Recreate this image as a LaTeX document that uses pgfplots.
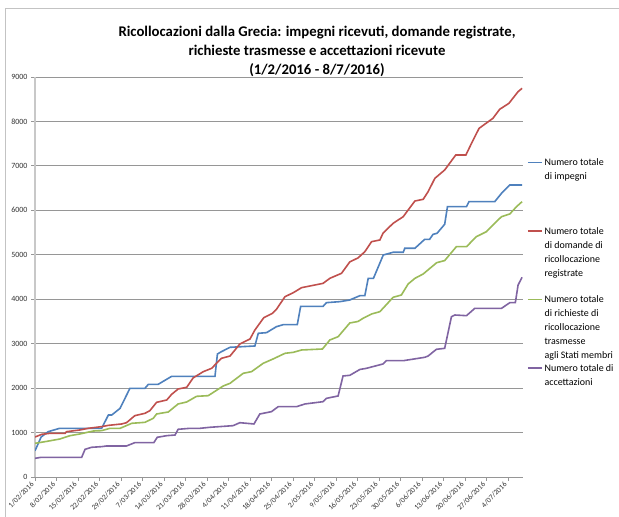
\documentclass[border=0pt]{standalone}
\usepackage{fontspec}
\setmainfont{Carlito}
\usepackage{pgfplots}
\pgfplotsset{compat=1.18}
\definecolor{cblue}{HTML}{4F81BD}
\definecolor{cred}{HTML}{C0504D}
\definecolor{cgreen}{HTML}{9BBB59}
\definecolor{cpurple}{HTML}{8064A2}
\definecolor{gridc}{RGB}{150,150,150}
\definecolor{yaxc}{RGB}{200,200,200}
\definecolor{framec}{RGB}{195,195,195}
\newcommand{\lgent}[1]{\parbox[t][68.5bp][t]{90bp}{\raggedright\fontsize{10}{14}\selectfont #1}}
\begin{document}
\begin{tikzpicture}
\useasboundingbox (0,0) rectangle (619bp,517bp);
\fill[white] (0,0) rectangle (619bp,517bp);
\draw[framec, line width=0.8bp] (5bp,0) -- (5bp,509bp) -- (619bp,509bp);
\node[font=\bfseries\fontsize{14.8}{17}\selectfont, anchor=base] at (317bp,480.5bp) {Ricollocazioni dalla Grecia: impegni ricevuti, domande registrate,};
\node[font=\bfseries\fontsize{14.8}{17}\selectfont, anchor=base] at (317bp,461bp) {richieste trasmesse e accettazioni ricevute};
\node[font=\bfseries\fontsize{14.8}{17}\selectfont, anchor=base] at (317bp,442bp) {(1/2/2016 - 8/7/2016)};
\begin{axis}[
  at={(35bp,40bp)}, anchor=south west,
  scale only axis, width=488bp, height=400bp,
  xmin=0, xmax=158.9, ymin=0, ymax=9000,
  axis x line*=bottom, axis y line*=left,
  x axis line style={gridc, line width=0.8bp, -},
  y axis line style={yaxc, line width=1.6bp, -},
  ymajorgrids, grid style={gridc, line width=0.8bp},
  tick align=outside, major tick length=4bp,
  tick style={gridc, line width=0.8bp},
  xtick={0,7,...,154},
  xticklabels={1/02/2016, 8/02/2016, 15/02/2016, 22/02/2016, 29/02/2016, 7/03/2016, 14/03/2016, 21/03/2016, 28/03/2016, 4/04/2016, 11/04/2016, 18/04/2016, 25/04/2016, 2/05/2016, 9/05/2016, 16/05/2016, 23/05/2016, 30/05/2016, 6/06/2016, 13/06/2016, 20/06/2016, 27/06/2016, 4/07/2016},
  xticklabel style={rotate=45, anchor=east, font=\fontsize{7.5}{9}\selectfont, text=black!80},
  ytick={0,1000,...,9000},
  yticklabel style={font=\fontsize{8}{9.6}\selectfont, text=black!80},
  /pgf/number format/assume math mode=true,
  /pgf/number format/1000 sep={},
  scaled y ticks=false,
  legend style={draw=none, fill=none, inner sep=0pt, outer sep=0pt,
    at={(1.0082,0.7955)}, anchor=north west,
    nodes={inner sep=0pt, outer sep=0pt, text depth={}, text height={}}, cells={anchor=base west},
    column sep=2bp, row sep=0pt},
  legend image code/.code={\draw[#1, line width=1.6bp] (0bp,3.3bp) -- (14bp,3.3bp);},
  every axis plot/.append style={line width=1.6bp, mark=none},
]
\addplot[cblue] coordinates {(0,590) (2,900) (4.3,1020) (8,1095) (21.7,1095) (23.9,1395) (25,1395) (27.7,1545) (30.9,1995) (35.8,1995) (36.9,2085) (40.1,2085) (44.5,2265) (58.6,2265) (59.4,2767) (60.7,2820) (63.5,2918) (71.6,2948) (72.7,3233) (75.4,3248) (78.6,3382) (80.8,3427) (85.4,3427) (86.5,3840) (93.8,3840) (94.9,3923) (99.2,3945) (102.5,3983) (105.8,4080) (107.4,4080) (108.5,4470) (110.2,4470) (113.4,4995) (116.6,5056) (119.9,5056) (120.4,5146) (123.7,5146) (126.9,5348) (128.5,5348) (129.6,5460) (130.9,5483) (133.4,5686) (134.3,6083) (140.5,6083) (141.3,6195) (149.7,6195) (151.9,6383) (154.6,6570) (158.6,6570)};
\addlegendentry{\lgent{Numero totale\newline di impegni}}
\addplot[cred] coordinates {(0,900) (2.2,960) (4.9,983) (9.8,983) (10.3,1020) (14.6,1058) (17.3,1095) (21.7,1133) (23.9,1162) (28.2,1193) (29.8,1222) (32.5,1380) (35.8,1433) (37.4,1492) (39.6,1680) (42.9,1733) (44.5,1860) (46.6,1980) (49.4,2018) (51.5,2230) (54.8,2370) (57.5,2445) (60.7,2670) (63.5,2722) (66.7,2992) (70,3105) (71.6,3307) (74.5,3585) (77.3,3682) (78.6,3772) (81.4,4057) (84.1,4147) (86.8,4260) (93.8,4357) (96,4470) (99.8,4583) (102.5,4840) (105.2,4930) (107.4,5070) (109.6,5295) (112.3,5333) (113.3,5483) (116.6,5708) (119.9,5857) (121.5,6008) (123.7,6210) (126.4,6248) (128,6420) (130.2,6720) (133.4,6908) (137,7245) (140.3,7245) (142.4,7545) (144.6,7845) (149.1,8070) (151.3,8273) (154.3,8407) (157.3,8670) (158.6,8745)};
\addlegendentry{\lgent{Numero totale\newline di domande di\newline ricollocazione\newline registrate}}
\addplot[cgreen] coordinates {(0,758) (3.3,795) (8.1,855) (11.4,930) (14.6,968) (19,1035) (21.7,1043) (24.4,1095) (27.7,1095) (31.5,1208) (35.8,1230) (38.5,1320) (39.6,1418) (43.4,1463) (46.6,1643) (49.4,1688) (52.6,1815) (56.4,1830) (61.3,2048) (63.5,2108) (67.8,2333) (70.5,2370) (74.3,2558) (77.5,2655) (81.4,2783) (84.1,2805) (86.8,2858) (93.6,2880) (96,3083) (98.7,3157) (102.5,3465) (105.2,3500) (106.8,3570) (109.6,3668) (112.3,3720) (115,3922) (116.6,4043) (119.3,4095) (121.5,4343) (123.7,4470) (126.4,4568) (128.5,4690) (130.8,4822) (133.4,4870) (137.2,5182) (140.5,5182) (143.7,5407) (147,5520) (150.2,5745) (151.9,5857) (154.6,5918) (156.8,6083) (158.6,6195)};
\addlegendentry{\lgent{Numero totale\newline di richieste di\newline ricollocazione\newline trasmesse\newline agli Stati membri}}
\addplot[cpurple] coordinates {(0,420) (2,443) (15.2,443) (16.3,623) (18.4,668) (21.7,683) (23.3,698) (29.8,698) (32.5,773) (38.7,773) (39.8,893) (42.9,930) (45.6,945) (46.6,1073) (50.4,1095) (53.7,1095) (56.9,1118) (64.5,1155) (66.7,1222) (71.3,1193) (73.2,1418) (77,1470) (79.2,1583) (85.2,1583) (87.9,1643) (93.8,1695) (94.9,1770) (98.7,1823) (100.3,2273) (102.5,2288) (105.8,2420) (107.9,2445) (113.3,2543) (114.4,2617) (119.9,2617) (126.9,2693) (128,2722) (130.7,2873) (133.4,2895) (135.6,3607) (136.7,3645) (140.5,3630) (141.6,3697) (143.2,3795) (151.9,3795) (154.6,3922) (156.4,3922) (157.3,4320) (158.6,4493)};
\addlegendentry{\lgent{Numero totale di\newline accettazioni}}
\end{axis}
\end{tikzpicture}
\end{document}
